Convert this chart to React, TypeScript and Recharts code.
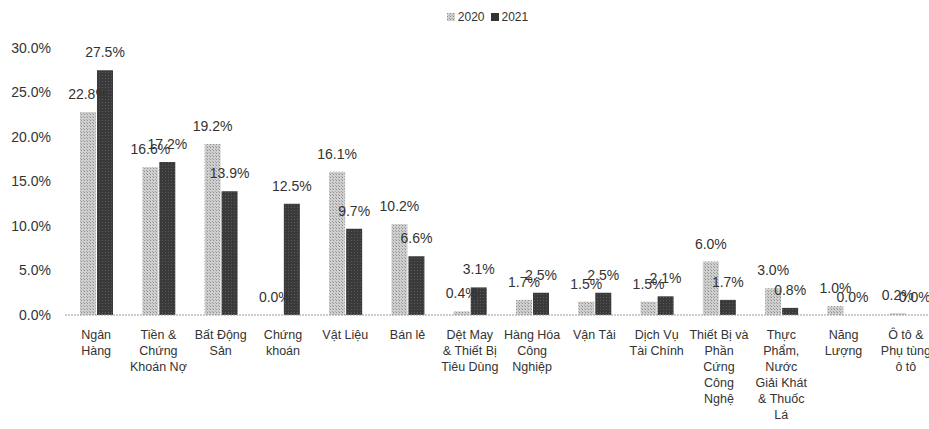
import { BarChart, Bar, XAxis, YAxis, LabelList, Legend } from 'recharts';

const categories = [
  'Ngân Hàng', 'Tiền & Chứng Khoán Nợ', 'Bất Động Sản', 'Chứng khoán', 'Vật Liệu', 'Bán lẻ',
  'Dệt May & Thiết Bị Tiêu Dùng', 'Hàng Hóa Công Nghiệp', 'Vận Tải', 'Dịch Vụ Tài Chính',
  'Thiết Bị và Phần Cứng Công Nghệ', 'Thực Phẩm, Nước Giải Khát & Thuốc Lá', 'Năng Lượng', 'Ô tô & Phụ tùng ô tô',
];

// how Excel wrapped each category label
const labelLines = [
  ['Ngân', 'Hàng'],
  ['Tiền &', 'Chứng', 'Khoán Nợ'],
  ['Bất Động', 'Sản'],
  ['Chứng', 'khoán'],
  ['Vật Liệu'],
  ['Bán lẻ'],
  ['Dệt May', '& Thiết Bị', 'Tiêu Dùng'],
  ['Hàng Hóa', 'Công', 'Nghiệp'],
  ['Vận Tải'],
  ['Dịch Vụ', 'Tài Chính'],
  ['Thiết Bị và', 'Phần', 'Cứng', 'Công', 'Nghệ'],
  ['Thực', 'Phẩm,', 'Nước', 'Giải Khát', '& Thuốc', 'Lá'],
  ['Năng', 'Lượng'],
  ['Ô tô &', 'Phụ tùng', 'ô tô'],
];

const values2020 = [22.8, 16.6, 19.2, 0.0, 16.1, 10.2, 0.4, 1.7, 1.5, 1.5, 6.0, 3.0, 1.0, 0.2];
const values2021 = [27.5, 17.2, 13.9, 12.5, 9.7, 6.6, 3.1, 2.5, 2.5, 2.1, 1.7, 0.8, 0.0, 0.0];
const yTicks = [0, 5, 10, 15, 20, 25, 30];

const data = categories.map((name, i) => ({ name, y2020: values2020[i], y2021: values2021[i], idx: i }));

const FONT = '"Liberation Sans", Arial, sans-serif';
const pct = (v: number) => `${Number(v).toFixed(1)}%`;

function CategoryTick(props: any) {
  const { x, y, index } = props;
  const lines = labelLines[index] || [];
  return (
    <text x={x} y={y} textAnchor="middle" fill="#333" fontSize={12.5} fontFamily={FONT}>
      {lines.map((l, i) => (
        <tspan key={i} x={x} dy={16}>{l}</tspan>
      ))}
    </text>
  );
}

function LegendBox() {
  return (
    <div style={{ display: 'flex', justifyContent: 'center', alignItems: 'center', gap: 6, fontFamily: FONT, fontSize: 12, color: '#333', paddingLeft: 38 }}>
      <span style={{ display: 'inline-flex', alignItems: 'center', gap: 3 }}>
        <svg width={8} height={8}><rect width={8} height={8} fill="url(#hatch2020)" /></svg>2020
      </span>
      <span style={{ display: 'inline-flex', alignItems: 'center', gap: 3 }}>
        <svg width={8} height={8}><rect width={8} height={8} fill="#333" /></svg>2021
      </span>
    </div>
  );
}

export default function App() {
  return (
    <div style={{ position: 'absolute', left: 0, top: 0, width: 929, height: 429, overflow: 'hidden', background: '#fff' }}>
      <BarChart
        width={945}
        height={429}
        data={data}
        margin={{ top: 34, right: 8, bottom: 0, left: 0 }}
        barSize={16}
        barGap={1}
      >
        <defs>
          <pattern id="hatch2020" width="3" height="3" patternUnits="userSpaceOnUse">
            <rect width="3" height="3" fill="#cfcfcf" />
            <rect width="1" height="1" fill="#8f8f8f" />
            <rect x="2" y="2" width="1" height="1" fill="#a5a5a5" />
          </pattern>
          <pattern id="hatch2021" width="3" height="3" patternUnits="userSpaceOnUse">
            <rect width="3" height="3" fill="#3a3a3a" />
            <rect width="1" height="1" fill="#5a5a5a" />
          </pattern>
        </defs>
        <Legend verticalAlign="top" align="center" content={<LegendBox />} wrapperStyle={{ top: 10 }} />
        <XAxis
          dataKey="name"
          interval={0}
          height={114}
          tick={<CategoryTick />}
          tickLine={false}
          axisLine={{ stroke: '#9a9a9a', strokeDasharray: '2 1' }}
        />
        <YAxis
          domain={[0, 30]}
          ticks={yTicks}
          tickFormatter={pct}
          width={65}
          axisLine={false}
          tickLine={false}
          tickSize={0}
          tickMargin={14}
          tick={{ fill: '#333', fontSize: 14, fontFamily: FONT }}
        />
        <Bar dataKey="y2020" name="2020" fill="url(#hatch2020)" minPointSize={0.01} isAnimationActive={false}>
          <LabelList dataKey="y2020" position="top" offset={13} formatter={pct} fill="#333" fontSize={14} fontFamily={FONT} />
        </Bar>
        <Bar dataKey="y2021" name="2021" fill="url(#hatch2021)" minPointSize={0.01} isAnimationActive={false}>
          <LabelList dataKey="y2021" position="top" offset={13} formatter={pct} fill="#333" fontSize={14} fontFamily={FONT} />
        </Bar>
      </BarChart>
    </div>
  );
}
